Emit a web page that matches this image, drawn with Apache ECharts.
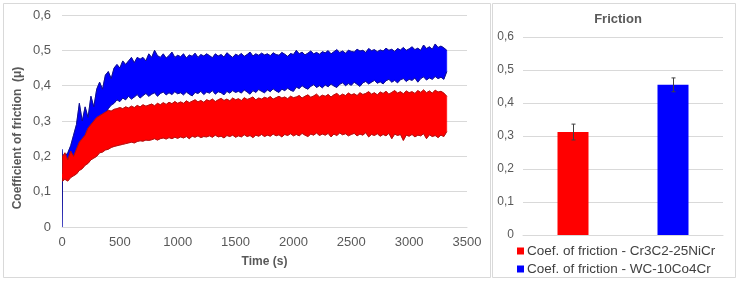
<!DOCTYPE html>
<html><head><meta charset="utf-8">
<script src="https://cdn.jsdelivr.net/npm/echarts@6/dist/echarts.min.js"></script>
<style>html,body{margin:0;padding:0;background:#fff}#c{width:737px;height:281px}</style>
</head><body><div id="c"></div>
<script>
// Time (s)
const times = [0,5,
25,50,75,100,125,150,175,200,225,250,
275,300,325,350,375,400,425,450,475,500,
525,550,575,600,625,650,675,700,725,750,
775,800,825,850,875,900,925,950,975,1000,
1025,1050,1075,1100,1125,1150,1175,1200,1225,1250,
1275,1300,1325,1350,1375,1400,1425,1450,1475,1500,
1525,1550,1575,1600,1625,1650,1675,1700,1725,1750,
1775,1800,1825,1850,1875,1900,1925,1950,1975,2000,
2025,2050,2075,2100,2125,2150,2175,2200,2225,2250,
2275,2300,2325,2350,2375,2400,2425,2450,2475,2500,
2525,2550,2575,2600,2625,2650,2675,2700,2725,2750,
2775,2800,2825,2850,2875,2900,2925,2950,2975,3000,
3025,3050,3075,3100,3125,3150,3175,3200,3225,3250,
3275,3300,3325];
// WC-10Co4Cr : upper / lower envelope of the noisy friction trace
const wcUpper = [0.22,0.19,
0.20,0.21,0.23,0.26,0.29,0.35,0.30,0.34,0.31,0.37,
0.34,0.39,0.41,0.39,0.43,0.44,0.42,0.45,0.46,0.45,
0.47,0.46,0.47,0.48,0.465,0.48,0.475,0.48,0.47,0.49,
0.48,0.50,0.485,0.48,0.49,0.478,0.485,0.495,0.48,0.486,
0.482,0.49,0.478,0.487,0.483,0.492,0.48,0.488,0.484,0.49,
0.485,0.479,0.49,0.484,0.488,0.481,0.493,0.486,0.48,0.489,
0.485,0.491,0.483,0.488,0.495,0.484,0.49,0.486,0.492,0.487,
0.49,0.485,0.493,0.488,0.486,0.494,0.489,0.483,0.491,0.488,
0.5,0.49,0.495,0.487,0.492,0.498,0.49,0.494,0.489,0.496,
0.493,0.499,0.49,0.496,0.502,0.494,0.498,0.492,0.5,0.497,
0.495,0.503,0.498,0.5,0.494,0.505,0.499,0.502,0.496,0.501,
0.498,0.506,0.5,0.503,0.497,0.505,0.501,0.508,0.5,0.504,
0.51,0.502,0.506,0.5,0.515,0.505,0.51,0.503,0.518,0.508,
0.512,0.507,0.5];
const wcLower = [0,0.15,
0.14,0.15,0.145,0.16,0.17,0.18,0.19,0.2,0.21,0.22,
0.24,0.26,0.28,0.30,0.32,0.335,0.345,0.35,0.36,0.355,
0.365,0.36,0.37,0.362,0.368,0.375,0.365,0.372,0.378,0.37,
0.376,0.38,0.37,0.378,0.382,0.374,0.38,0.375,0.383,0.377,
0.38,0.374,0.382,0.376,0.371,0.381,0.378,0.384,0.375,0.382,
0.379,0.386,0.376,0.383,0.38,0.374,0.384,0.379,0.386,0.381,
0.384,0.379,0.388,0.382,0.376,0.386,0.381,0.389,0.384,0.38,
0.388,0.383,0.391,0.385,0.381,0.39,0.386,0.393,0.387,0.384,
0.396,0.392,0.4,0.394,0.39,0.398,0.403,0.395,0.4,0.394,
0.402,0.397,0.405,0.399,0.395,0.404,0.408,0.4,0.406,0.401,
0.41,0.404,0.398,0.408,0.412,0.405,0.41,0.415,0.407,0.411,
0.405,0.414,0.418,0.41,0.415,0.408,0.417,0.42,0.412,0.418,
0.415,0.422,0.41,0.42,0.425,0.416,0.422,0.418,0.426,0.42,
0.424,0.418,0.44];
// Cr3C2-25NiCr : upper / lower envelope
const crUpper = [0.15,0.2,
0.21,0.19,0.215,0.2,0.22,0.24,0.25,0.26,0.28,0.29,
0.30,0.31,0.315,0.32,0.325,0.33,0.328,0.333,0.335,0.338,
0.335,0.34,0.337,0.342,0.338,0.344,0.34,0.346,0.342,0.345,
0.348,0.343,0.35,0.346,0.352,0.347,0.353,0.349,0.355,0.35,
0.354,0.35,0.357,0.352,0.356,0.36,0.354,0.358,0.353,0.36,
0.357,0.362,0.355,0.36,0.364,0.358,0.362,0.357,0.365,0.36,
0.363,0.358,0.366,0.361,0.364,0.368,0.36,0.365,0.362,0.367,
0.364,0.369,0.362,0.366,0.37,0.365,0.368,0.363,0.37,0.366,
0.368,0.372,0.365,0.37,0.374,0.367,0.371,0.376,0.368,0.373,
0.37,0.375,0.368,0.374,0.378,0.371,0.376,0.372,0.379,0.374,
0.377,0.372,0.38,0.375,0.378,0.383,0.376,0.38,0.374,0.382,
0.378,0.384,0.376,0.381,0.386,0.379,0.383,0.377,0.385,0.38,
0.383,0.378,0.386,0.381,0.388,0.38,0.385,0.379,0.387,0.382,
0.384,0.379,0.37];
const crLower = [0.14,0.13,
0.135,0.13,0.14,0.145,0.15,0.16,0.165,0.175,0.18,0.19,
0.195,0.2,0.21,0.212,0.218,0.22,0.225,0.228,0.23,0.232,
0.234,0.236,0.238,0.24,0.238,0.242,0.244,0.243,0.246,0.245,
0.247,0.25,0.246,0.25,0.252,0.249,0.253,0.25,0.254,0.251,
0.255,0.252,0.256,0.25,0.257,0.254,0.258,0.253,0.256,0.255,
0.258,0.254,0.26,0.255,0.257,0.252,0.259,0.256,0.26,0.254,
0.258,0.255,0.261,0.256,0.259,0.253,0.26,0.257,0.262,0.256,
0.26,0.257,0.263,0.258,0.261,0.255,0.262,0.259,0.264,0.258,
0.262,0.258,0.265,0.26,0.256,0.263,0.26,0.266,0.259,0.263,
0.26,0.265,0.255,0.263,0.259,0.266,0.261,0.264,0.258,0.262,
0.265,0.258,0.263,0.26,0.267,0.255,0.262,0.259,0.264,0.257,
0.262,0.258,0.265,0.25,0.263,0.259,0.262,0.245,0.26,0.257,
0.262,0.255,0.26,0.258,0.264,0.25,0.261,0.256,0.259,0.253,
0.26,0.256,0.27];

// Bar chart (mean friction with error)
const coatings = ['Cr3C2-25NiCr','WC-10Co4Cr'];
const barNames = ['Coef. of friction - Cr3C2-25NiCr','Coef. of friction - WC-10Co4Cr'];
const meanFriction = [0.312, 0.455];
const errFriction = [0.024, 0.021];

const FONT = '"Liberation Sans", Arial, sans-serif';
const fmt = v => { const r = Math.round(v*10)/10; return r === 0 ? '0' : String(r).replace('.', ','); };

// band drawn as one polygon between lower and upper envelopes, through the axis scales
function bandSeries(upper, lower, fill, edge) {
  return {
    type:'custom', xAxisIndex:0, yAxisIndex:0, silent:true, clip:true,
    data: times.map((t,i)=>[t, lower[i], upper[i]]),
    renderItem:(params, api)=>{
      if (params.dataIndex !== 0) return null;
      const up = times.map((t,i)=>api.coord([t, upper[i]]));
      const lo = times.map((t,i)=>api.coord([t, lower[i]]));
      const poly = up.concat(lo.slice().reverse());
      return {type:'group', children:[
        {type:'polygon', shape:{points:poly}, style:{fill:fill, stroke:fill, lineWidth:0.5}},
        {type:'polyline', shape:{points:up}, style:{fill:'none', stroke:edge, lineWidth:1}},
        {type:'polyline', shape:{points:lo}, style:{fill:'none', stroke:edge, lineWidth:1}}
      ]};
    }
  };
}

const chart = echarts.init(document.getElementById('c'), null, {renderer:'canvas'});
const legendCommon = {icon:'rect', itemWidth:7, itemHeight:7, itemGap:0,
  textStyle:{fontFamily:FONT,fontSize:13.5,color:'#404040', padding:[0,0,0,-2]}};
chart.setOption({
  animation:false,
  backgroundColor:'#fff',
  textStyle:{fontFamily:FONT},
  title:{text:'Friction', left:613, top:8, textAlign:'center',
    textStyle:{fontFamily:FONT,fontSize:13,fontWeight:'bold',color:'#595959'}},
  graphic:[
    {type:'rect', shape:{x:3.5,y:3.5,width:487,height:274}, style:{fill:'none',stroke:'#d9d9d9',lineWidth:1}, z:-10},
    {type:'rect', shape:{x:492.5,y:3.5,width:243,height:274}, style:{fill:'none',stroke:'#d9d9d9',lineWidth:1}, z:-10},
    {type:'text', x:18, y:138, rotation:Math.PI/2,
      style:{text:'Coefficient of friction  (μ)', font:'bold 12px '+FONT, fill:'#595959', textAlign:'center', textVerticalAlign:'middle'}}
  ],
  legend:[
    Object.assign({data:[barNames[0]], left:512, top:239}, legendCommon),
    Object.assign({data:[barNames[1]], left:512, top:257}, legendCommon)
  ],
  grid:[
    {left:62, right:270, top:15, bottom:54},
    {left:523, right:14, top:37, bottom:46}
  ],
  xAxis:[
    {gridIndex:0, type:'value', min:0, max:3500, interval:500,
      name:'Time (s)', nameLocation:'middle', nameGap:29,
      nameTextStyle:{fontFamily:FONT,fontSize:12,fontWeight:'bold',color:'#595959'},
      axisLine:{lineStyle:{color:'#d9d9d9'}}, axisTick:{show:false}, splitLine:{show:false},
      axisLabel:{fontFamily:FONT,fontSize:13,color:'#595959',margin:9,formatter:v=>String(v)}},
    {gridIndex:1, type:'category', data:coatings,
      axisLine:{lineStyle:{color:'#d9d9d9'}}, axisTick:{show:false}, axisLabel:{show:false}}
  ],
  yAxis:[
    {gridIndex:0, type:'value', min:0, max:0.6, interval:0.1,
      axisLine:{show:false}, axisTick:{show:false},
      splitLine:{lineStyle:{color:'#d9d9d9'}},
      axisLabel:{fontFamily:FONT,fontSize:13,color:'#595959',margin:11,formatter:fmt}},
    {gridIndex:1, type:'value', min:0, max:0.6, interval:0.1,
      axisLine:{show:false}, axisTick:{show:false},
      splitLine:{lineStyle:{color:'#d9d9d9'}},
      axisLabel:{fontFamily:FONT,fontSize:12,color:'#595959',margin:9,formatter:fmt}}
  ],
  series:[
    bandSeries(wcUpper, wcLower, '#0000ff', '#10108a'),
    bandSeries(crUpper, crLower, '#ff0000', '#b01010'),
    {name:barNames[0], type:'bar', xAxisIndex:1, yAxisIndex:1, stack:'f', barWidth:31,
      itemStyle:{color:'#ff0000'}, data:[meanFriction[0],'-']},
    {name:barNames[1], type:'bar', xAxisIndex:1, yAxisIndex:1, stack:'f', barWidth:31,
      itemStyle:{color:'#0000ff'}, data:['-',meanFriction[1]]},
    {type:'custom', xAxisIndex:1, yAxisIndex:1, z:10, silent:true,
      data: coatings.map((c,i)=>[i, meanFriction[i], errFriction[i]]),
      renderItem:(params, api)=>{
        const i = api.value(0), m = api.value(1), e = api.value(2);
        const hi = api.coord([i, m+e]), lo = api.coord([i, m-e]);
        const st = {stroke:'#404040', lineWidth:1};
        const x = Math.round(hi[0])+0.5;
        return {type:'group', children:[
          {type:'line', shape:{x1:x,y1:hi[1],x2:x,y2:lo[1]}, style:st},
          {type:'line', shape:{x1:x-2,y1:hi[1],x2:x+2,y2:hi[1]}, style:st},
          {type:'line', shape:{x1:x-2,y1:lo[1],x2:x+2,y2:lo[1]}, style:st}
        ]};
      }}
  ]
});
</script></body></html>
